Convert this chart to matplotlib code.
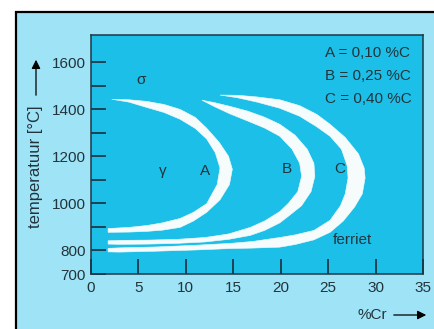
import matplotlib
matplotlib.use("Agg")
import matplotlib.pyplot as plt
from matplotlib.patches import Rectangle, Polygon

plt.rcParams['font.family'] = ['Liberation Sans', 'DejaVu Sans']

# crescent boundaries (%Cr, temperature)
# outer edge: upper tip -> nose -> lower end ; inner edge the same way
a_outer = [(2.2, 1442), (4, 1440), (5.9, 1433), (7.7, 1420), (9.4, 1399), (11, 1365),
           (12.2, 1319), (13.5, 1260), (14.5, 1200), (14.9, 1145), (14.6, 1080),
           (13.6, 1015), (12.2, 962), (10.8, 925), (9.4, 898), (7.5, 886), (5.9, 881),
           (4, 878), (1.8, 877)]
a_inner = [(2.2, 1442), (4, 1430), (5.9, 1407), (7.7, 1386), (9.4, 1357), (11, 1318),
           (12.2, 1273), (13.1, 1215), (13.6, 1150), (13.3, 1080), (12.2, 999),
           (10.8, 962), (9.4, 936), (7.5, 917), (5.9, 906), (4, 898), (1.8, 893)]

b_outer = [(11.7, 1438), (13, 1428), (14.65, 1412), (16.5, 1392), (18.3, 1366),
           (19.9, 1336), (21.5, 1290), (22.8, 1230), (23.5, 1170), (23.6, 1115),
           (23.2, 1050), (22.2, 990), (20.8, 945), (19.9, 917), (18.3, 885),
           (16.8, 864), (14.5, 847), (12, 836), (9, 830), (6, 827), (3, 826), (1.8, 827)]
b_inner = [(11.7, 1438), (13, 1411), (14.65, 1380), (16.5, 1350), (18.3, 1320),
           (19.9, 1285), (21.2, 1230), (22, 1170), (22.2, 1115), (21.8, 1050),
           (20.8, 1000), (19.9, 965), (18.3, 925), (16.8, 898), (14.5, 870),
           (12, 855), (9, 847), (6, 844), (3, 843), (1.8, 841)]

c_outer = [(13.6, 1460), (15.5, 1459), (17.5, 1452), (19.9, 1440), (22, 1415),
           (23.8, 1378), (25.2, 1336), (26.8, 1280), (28.2, 1210), (28.8, 1150),
           (28.9, 1108), (28.6, 1040), (27.8, 985), (26.6, 925), (25.2, 877),
           (23.5, 845), (21.5, 825), (19.9, 814), (17, 810), (14.65, 808), (11, 802),
           (7, 797), (3, 793), (1.8, 794)]
c_inner = [(13.6, 1460), (15.5, 1448), (17.5, 1430), (19.9, 1404), (22, 1370),
           (23.8, 1325), (25.2, 1285), (26.4, 1230), (27.0, 1160), (27.1, 1108),
           (26.8, 1040), (26.3, 990), (25.2, 928), (23.5, 885), (21.5, 866),
           (19.9, 855), (17, 838), (14.65, 830), (11, 822), (7, 815), (3, 811),
           (1.8, 809)]

crescents = [(a_outer, a_inner), (b_outer, b_inner), (c_outer, c_inner)]

xticks = [0, 5, 10, 15, 20, 25, 30, 35]
yticks = [700, 800, 900, 1000, 1100, 1200, 1300, 1400, 1500, 1600]
ytick_labels = ['700', '800', '', '1000', '', '1200', '', '1400', '', '1600']

legend_lines = ['A = 0,10 %C', 'B = 0,25 %C', 'C = 0,40 %C']

BG = '#9fe3f6'
FACE = '#1cbfe7'
DARK = '#1d3846'
INK = '#22343c'

fig = plt.figure(figsize=(4.35, 3.29), dpi=100, facecolor='white')
fig.patches.append(Rectangle((16 / 435, -0.05), 1.1, 1 - 12 / 329 + 0.05,
                             transform=fig.transFigure, facecolor=BG,
                             edgecolor='black', lw=1.6, zorder=-5))

ax = fig.add_axes([91 / 435, 1 - 274 / 329, (423 - 91) / 435, (274 - 35) / 329])
ax.set_facecolor(FACE)
ax.set_xlim(0, 35)
ax.set_ylim(700, 1715)

for outer, inner in crescents:
    pts = outer + inner[::-1]
    ax.add_patch(Polygon(pts, closed=True, facecolor='#f6fbfc', edgecolor='#f6fbfc',
                         lw=0.4, joinstyle='round'))

ax.set_xticks(xticks)
ax.set_yticks(yticks)
ax.set_yticklabels(ytick_labels)
ax.tick_params(direction='in', length=11, width=1.3, color=DARK, labelsize=11,
               labelcolor=INK)
ax.tick_params(axis='x', pad=5)
ax.tick_params(axis='y', pad=4)
for s in ax.spines.values():
    s.set_color(DARK)
    s.set_linewidth(1.1)

txt = dict(color=INK, fontsize=11, ha='center', va='center')
ax.text(5.3, 1525, 'σ', **txt)
ax.text(7.6, 1138, 'γ', **txt)
ax.text(12.0, 1138, 'A', **txt)
ax.text(20.6, 1146, 'B', **txt)
ax.text(26.2, 1146, 'C', **txt)
ax.text(27.6, 843, 'ferriet', **txt)

for i, line in enumerate(legend_lines):
    ax.text(24.7, 1638 - i * 98, line, color=INK, fontsize=11,
            ha='left', va='center')

# axis labels with arrows
fig.text(36 / 435, 1 - 167 / 329, 'temperatuur [°C]', rotation=90,
         ha='center', va='center', fontsize=12, color=INK)
ax.annotate('', xy=(36 / 435, 1 - 57 / 329), xytext=(36 / 435, 1 - 98 / 329),
            xycoords='figure fraction', textcoords='figure fraction',
            arrowprops=dict(arrowstyle='-|>', color='black', lw=0.9,
                            mutation_scale=13), annotation_clip=False)

fig.text(372 / 435, 1 - 315 / 329, '%Cr', ha='center', va='center',
         fontsize=11, color=INK)
ax.annotate('', xy=(429 / 435, 1 - 315 / 329), xytext=(391 / 435, 1 - 315 / 329),
            xycoords='figure fraction', textcoords='figure fraction',
            arrowprops=dict(arrowstyle='-|>', color='black', lw=0.9,
                            mutation_scale=13), annotation_clip=False)

fig.savefig('out.png', dpi=100, facecolor='white')
